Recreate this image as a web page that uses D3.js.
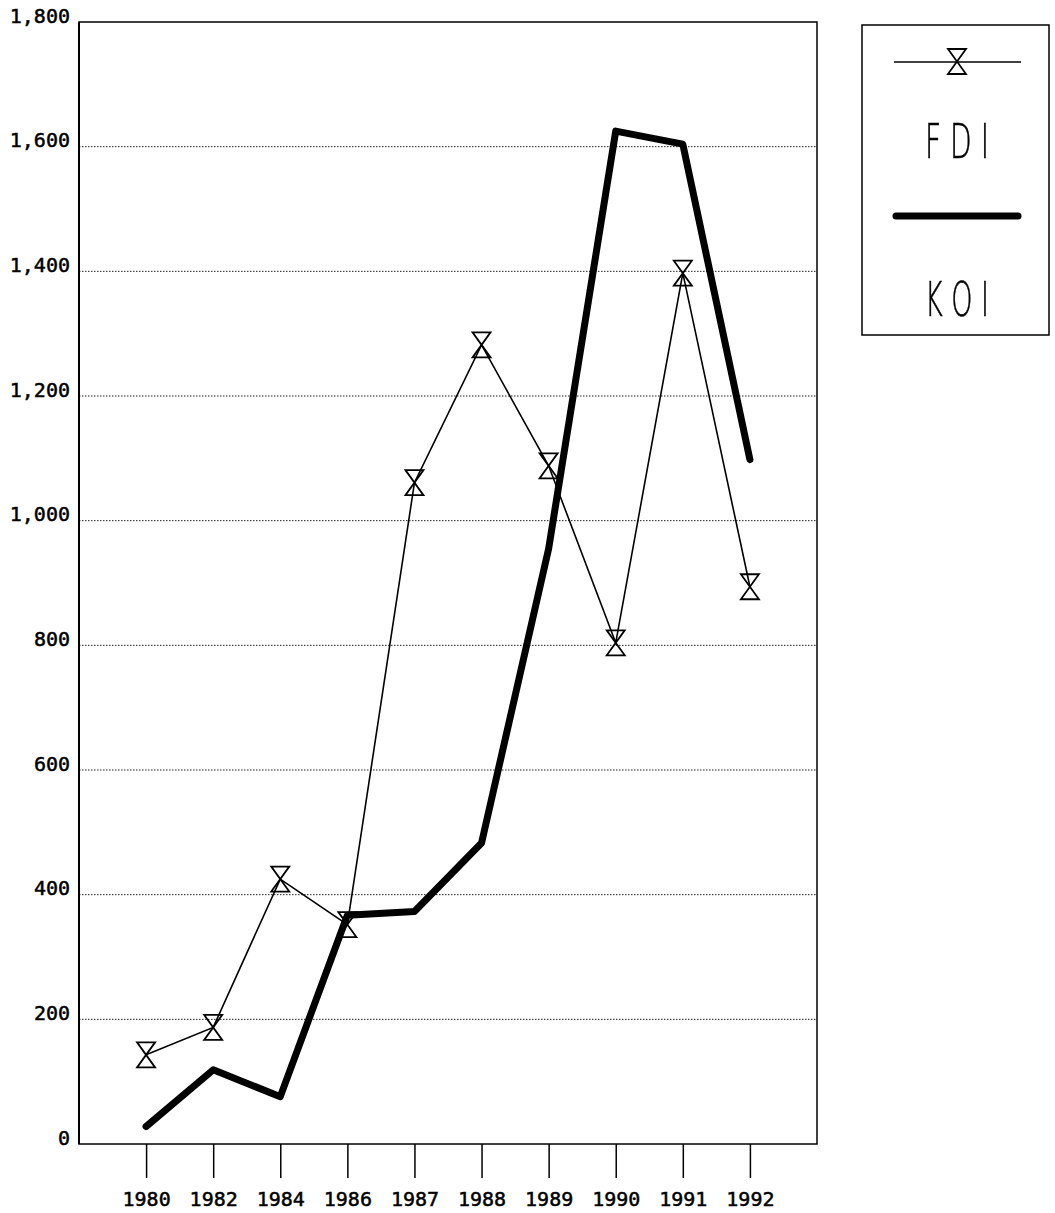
<!DOCTYPE html>
<html>
<head>
<meta charset="utf-8">
<script src="https://cdn.jsdelivr.net/npm/d3@7"></script>
<style>
  html, body { margin: 0; padding: 0; background: #fff; }
  svg { display: block; }
</style>
</head>
<body>
<svg id="chart" width="1055" height="1213">
  <defs>
    <filter id="gray" x="0" y="0" width="1" height="1">
      <feOffset dx="0" dy="0"/>
    </filter>
  </defs>
</svg>
<script>
// ---- data ----
const years = ["1980","1982","1984","1986","1987","1988","1989","1990","1991","1992"];
const fdiValues = [143, 187, 425, 352, 1061, 1282, 1088, 804, 1397, 894];
const koiValues = [28, 119, 76, 367, 373, 483, 955, 1625, 1604, 1098];
const yTicks = [0, 200, 400, 600, 800, 1000, 1200, 1400, 1600, 1800];
const legendLabels = ["F D I", "K O I"];

// ---- layout ----
const plotL = 79, plotR = 817, plotT = 22, plotB = 1144;
const svg = d3.select("#chart");
const x = d3.scalePoint().domain(years).range([plotL, plotR]).padding(1);
const y = d3.scaleLinear().domain([0, 1800]).range([plotB, plotT]);
const monoFont = "'DejaVu Sans Mono', 'Liberation Mono', monospace";

// gridlines (dotted)
svg.append("g").selectAll("line")
  .data(yTicks.filter(d => d > 0 && d < 1800))
  .join("line")
  .attr("x1", plotL).attr("x2", plotR)
  .attr("y1", d => y(d)).attr("y2", d => y(d))
  .attr("stroke", "#222").attr("stroke-width", 1)
  .attr("stroke-dasharray", "1.5,1.5");

// frame
svg.append("rect")
  .attr("x", plotL).attr("y", plotT)
  .attr("width", plotR - plotL).attr("height", plotB - plotT)
  .attr("fill", "none").attr("stroke", "#000").attr("stroke-width", 1.5);
svg.append("line").attr("x1", plotL).attr("x2", plotL).attr("y1", plotT).attr("y2", plotB)
  .attr("stroke", "#000").attr("stroke-width", 2);

// y labels
svg.append("g").selectAll("text")
  .data(yTicks).join("text")
  .attr("x", 70).attr("y", d => y(d) - 5)
  .attr("text-anchor", "end").attr("dominant-baseline", "middle")
  .attr("font-family", monoFont).attr("font-size", 20)
  .attr("stroke", "#000").attr("stroke-width", 0.5)
  .text(d => d3.format(",")(d));

// x axis ticks
const xAxis = d3.axisBottom(x).tickSize(34).tickPadding(14);
const gx = svg.append("g").attr("transform", `translate(0,${plotB})`).call(xAxis);
gx.select(".domain").remove();
gx.selectAll(".tick line").attr("stroke", "#000").attr("stroke-width", 1.5);
gx.selectAll(".tick text")
  .attr("font-family", monoFont).attr("font-size", 20)
  .attr("fill", "#000").attr("stroke", "#000").attr("stroke-width", 0.5);

// FDI line
const fdiData = years.map((d, i) => ({ year: d, v: fdiValues[i] }));
const koiData = years.map((d, i) => ({ year: d, v: koiValues[i] }));
const line = d3.line().x(d => x(d.year)).y(d => y(d.v));

svg.append("path").datum(fdiData)
  .attr("d", line).attr("fill", "none")
  .attr("stroke", "#000").attr("stroke-width", 1.6);

const hourglass = "M-9,-12.5H9L-9,12.5H9Z";
svg.append("g").selectAll("path")
  .data(fdiData).join("path")
  .attr("transform", d => `translate(${x(d.year)},${y(d.v)})`)
  .attr("d", hourglass)
  .attr("fill", "none").attr("stroke", "#000").attr("stroke-width", 1.8)
  .attr("stroke-linejoin", "miter");

// KOI line
svg.append("path").datum(koiData)
  .attr("d", line).attr("fill", "none")
  .attr("stroke", "#000").attr("stroke-width", 7)
  .attr("stroke-linejoin", "round").attr("stroke-linecap", "round");

// legend
const lg = svg.append("g");
lg.append("rect").attr("x", 862).attr("y", 25).attr("width", 187).attr("height", 310)
  .attr("fill", "none").attr("stroke", "#000").attr("stroke-width", 1.5);
lg.append("line").attr("x1", 894).attr("x2", 1021).attr("y1", 62).attr("y2", 62)
  .attr("stroke", "#000").attr("stroke-width", 1.6);
lg.append("path").attr("transform", "translate(957,61.5)").attr("d", hourglass)
  .attr("fill", "none").attr("stroke", "#000").attr("stroke-width", 1.8);
lg.append("line").attr("x1", 896).attr("x2", 1018).attr("y1", 216).attr("y2", 216)
  .attr("stroke", "#000").attr("stroke-width", 7).attr("stroke-linecap", "round");
lg.append("g").attr("filter", "url(#gray)")
  .selectAll("text.lab").data(legendLabels).join("text")
  .attr("class", "lab")
  .attr("x", 925).attr("y", (d, i) => [158, 316][i])
  .attr("textLength", 64).attr("lengthAdjust", "spacingAndGlyphs")
  .attr("font-family", "'DejaVu Sans', sans-serif").attr("font-weight", 200)
  .attr("font-size", 48).attr("fill", "#000")
  .attr("stroke", "#000").attr("stroke-width", 0.6)
  .text(d => d);
</script>
</body>
</html>
